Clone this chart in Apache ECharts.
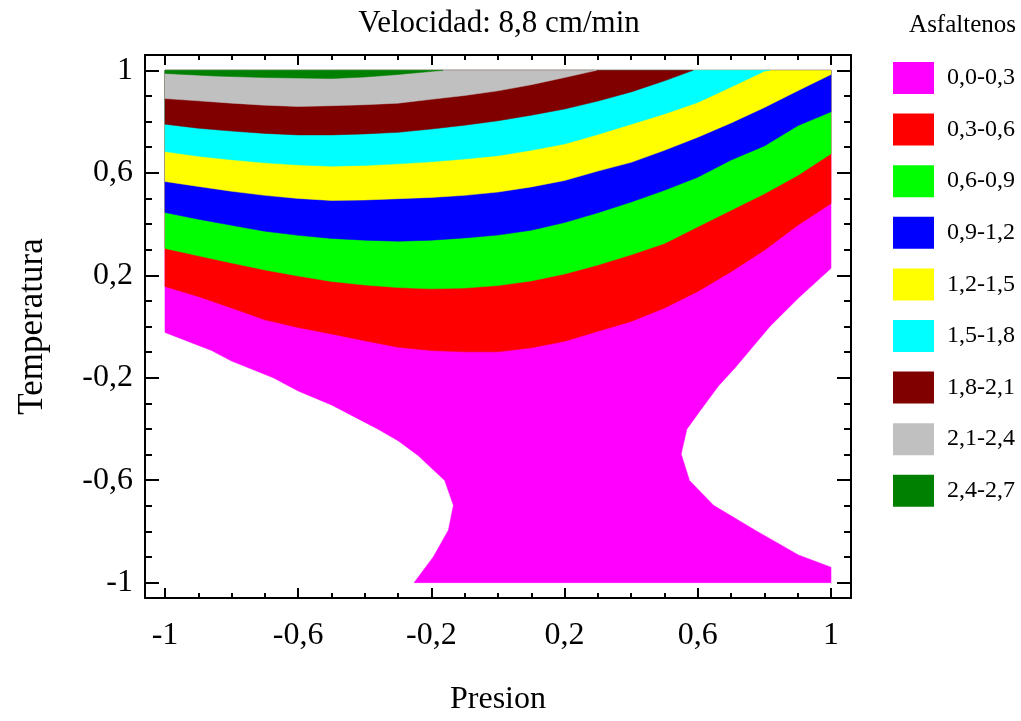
<!DOCTYPE html>
<html>
<head>
<meta charset="utf-8">
<script src="https://cdn.jsdelivr.net/npm/echarts@6/dist/echarts.min.js"></script>
<style>
html,body{margin:0;padding:0;background:#fff;}
#chart{width:1021px;height:721px;}
</style>
</head>
<body>
<div id="chart"></div>
<script>
// ---- texts ----
const titleText = 'Velocidad: 8,8 cm/min';
const xName = 'Presion';
const yName = 'Temperatura';
const legendTitle = 'Asfaltenos';

// ---- bands (contour levels) ----
const bandLabels = ['0,0-0,3','0,3-0,6','0,6-0,9','0,9-1,2','1,2-1,5','1,5-1,8','1,8-2,1','2,1-2,4','2,4-2,7'];
const bandColors = ['#FF00FF','#FF0000','#00FF00','#0000FF','#FFFF00','#00FFFF','#800000','#C0C0C0','#008000'];

// ---- ticks ----
const majorTicks = [-1, -0.6, -0.2, 0.2, 0.6, 1];
const minorTicks = [-1, -0.9, -0.8, -0.7, -0.6, -0.5, -0.4, -0.3, -0.2, -0.1, 0, 0.1, 0.2, 0.3, 0.4, 0.5, 0.6, 0.7, 0.8, 0.9, 1];

// ---- contour lines: [Presion, Temperatura] ----
// level 0.0 (two pieces)
const contour00Left = [[-1,-0.023],[-0.86,-0.094],[-0.80,-0.135],[-0.675,-0.200],[-0.60,-0.252],[-0.50,-0.306],[-0.36,-0.401],[-0.30,-0.446],[-0.24,-0.504],[-0.16,-0.601],[-0.134,-0.698],[-0.149,-0.795],[-0.194,-0.899],[-0.252,-1]];
const contour00Right = [[1,-0.94],[0.902,-0.892],[0.772,-0.795],[0.647,-0.698],[0.575,-0.601],[0.550,-0.498],[0.567,-0.401],[0.607,-0.329],[0.662,-0.232],[0.712,-0.161],[0.817,0.001],[0.902,0.111],[1,0.227]];
// level 0.3
const contour03 = [[-1,0.156],[-0.9,0.117],[-0.8,0.072],[-0.7,0.026],[-0.6,-0.004],[-0.5,-0.029],[-0.4,-0.056],[-0.3,-0.081],[-0.2,-0.094],[-0.1,-0.099],[0.0,-0.099],[0.1,-0.083],[0.2,-0.058],[0.3,-0.019],[0.4,0.020],[0.5,0.072],[0.6,0.137],[0.7,0.214],[0.8,0.298],[0.9,0.395],[1,0.480]];
// level 0.6
const contour06 = [[-1,0.305],[-0.9,0.276],[-0.8,0.248],[-0.7,0.221],[-0.6,0.197],[-0.5,0.176],[-0.4,0.162],[-0.3,0.152],[-0.2,0.147],[-0.1,0.150],[0.0,0.160],[0.1,0.178],[0.2,0.205],[0.3,0.240],[0.4,0.280],[0.5,0.324],[0.6,0.389],[0.7,0.454],[0.8,0.518],[0.9,0.590],[1,0.674]];
// level 0.9
const contour09 = [[-1,0.445],[-0.9,0.419],[-0.8,0.395],[-0.7,0.372],[-0.6,0.356],[-0.5,0.344],[-0.4,0.337],[-0.3,0.333],[-0.2,0.337],[-0.1,0.346],[0.0,0.357],[0.1,0.376],[0.2,0.406],[0.3,0.444],[0.4,0.486],[0.5,0.532],[0.6,0.583],[0.7,0.650],[0.8,0.705],[0.9,0.784],[1,0.838]];
// level 1.2
const contour12 = [[-1,0.566],[-0.9,0.547],[-0.8,0.528],[-0.7,0.512],[-0.6,0.500],[-0.5,0.492],[-0.4,0.494],[-0.3,0.499],[-0.2,0.504],[-0.1,0.512],[0.0,0.525],[0.1,0.545],[0.2,0.570],[0.3,0.607],[0.4,0.641],[0.5,0.688],[0.6,0.739],[0.7,0.795],[0.8,0.855],[0.9,0.920],[1,0.984]];
// level 1.5
const contour15 = [[-1,0.683],[-0.9,0.665],[-0.8,0.651],[-0.7,0.639],[-0.6,0.631],[-0.5,0.626],[-0.4,0.629],[-0.3,0.635],[-0.2,0.643],[-0.1,0.654],[0.0,0.667],[0.1,0.688],[0.2,0.713],[0.3,0.750],[0.4,0.790],[0.5,0.830],[0.6,0.875],[0.7,0.935],[0.8,0.997],[0.817,1]];
// level 1.8
const contour18 = [[-1,0.790],[-0.9,0.774],[-0.8,0.763],[-0.7,0.754],[-0.6,0.748],[-0.5,0.748],[-0.4,0.752],[-0.3,0.758],[-0.2,0.771],[-0.1,0.786],[0.0,0.803],[0.1,0.825],[0.2,0.849],[0.3,0.880],[0.4,0.916],[0.5,0.959],[0.586,1]];
// level 2.1
const contour21 = [[-1,0.890],[-0.9,0.881],[-0.8,0.872],[-0.7,0.864],[-0.6,0.859],[-0.5,0.862],[-0.4,0.866],[-0.3,0.872],[-0.2,0.887],[-0.1,0.902],[0.0,0.920],[0.1,0.944],[0.2,0.972],[0.296,1]];
// level 2.4
const contour24 = [[-1,0.988],[-0.85,0.978],[-0.7,0.972],[-0.5,0.968],[-0.4,0.974],[-0.3,0.984],[-0.165,1]];

// ---- domain of the surface ----
const XMIN = -1, XMAX = 1, YMIN = -1, YMAX = 1;
const AXMIN = -1.06, AXMAX = 1.06;

const FONT = "'Liberation Serif','Times New Roman',serif";

// region where value >= level (closing along the domain edges)
function regionAbove(line) {
  const pts = line.slice();
  const last = pts[pts.length - 1];
  if (last[1] < YMAX) pts.push([XMAX, YMAX]);
  pts.push([XMIN, YMAX]);
  return pts;
}
const region00 = contour00Left.concat([[XMAX, YMIN]], contour00Right, [[XMAX, YMAX], [XMIN, YMAX]]);
const regions = [region00, regionAbove(contour03), regionAbove(contour06), regionAbove(contour09),
  regionAbove(contour12), regionAbove(contour15), regionAbove(contour18), regionAbove(contour21), regionAbove(contour24)];

const fmt = v => String(v).replace('.', ',');
const tickLine = {color: '#000', width: 2};
const labelStyle = {color: '#000', fontFamily: FONT, fontSize: 32};
const nameStyle = {color: '#000', fontFamily: FONT, fontSize: 32};

function axis(pos, ticks, len, withLine, withLabel, extra) {
  return Object.assign({
    type: 'value', position: pos, min: AXMIN, max: AXMAX,
    splitLine: {show: false},
    axisLine: {show: withLine, onZero: false, lineStyle: {color: '#000', width: 2}},
    axisTick: {show: true, inside: true, length: len, lineStyle: tickLine, customValues: ticks},
    axisLabel: withLabel ? Object.assign({show: true, customValues: ticks, formatter: fmt}, labelStyle) : {show: false}
  }, extra || {});
}

const xAxes = [
  axis('bottom', majorTicks, 10, true, true, {
    axisLabel: Object.assign({show: true, customValues: majorTicks, formatter: fmt, margin: 22}, labelStyle),
    name: xName, nameLocation: 'middle', nameGap: 86, nameTextStyle: nameStyle
  }),
  axis('bottom', minorTicks, 5, false, false),
  axis('top', majorTicks, 10, true, false),
  axis('top', minorTicks, 5, false, false)
];
const yAxes = [
  axis('left', majorTicks, 14, true, true, {
    axisLabel: Object.assign({show: true, customValues: majorTicks, formatter: fmt, margin: 12}, labelStyle),
    name: yName, nameLocation: 'middle', nameGap: 95, nameTextStyle: Object.assign({}, nameStyle, {fontSize: 35})
  }),
  axis('left', minorTicks, 7, false, false),
  axis('right', majorTicks, 14, true, false),
  axis('right', minorTicks, 7, false, false)
];

const series = regions.map((poly, i) => ({
  type: 'custom',
  name: bandLabels[i],
  coordinateSystem: 'cartesian2d',
  xAxisIndex: 0, yAxisIndex: 0,
  silent: true,
  animation: false,
  itemStyle: {color: bandColors[i]},
  data: [poly[0]],
  renderItem: (params, api) => ({
    type: 'polygon',
    shape: {points: poly.map(p => api.coord(p))},
    style: {fill: bandColors[i], stroke: bandColors[i], lineWidth: 0.5}
  })
}));

const chart = echarts.init(document.getElementById('chart'), null, {renderer: 'canvas'});
chart.setOption({
  animation: false,
  backgroundColor: '#fff',
  title: [
    {text: titleText, left: 499, top: 8, padding: 0, textAlign: 'center',
     textStyle: {fontFamily: FONT, fontSize: 31, fontWeight: 'normal', color: '#000'}},
    {text: legendTitle, right: 5, top: 13, padding: 0,
     textStyle: {fontFamily: FONT, fontSize: 25, fontWeight: 'normal', color: '#000'}}
  ],
  legend: {
    orient: 'vertical', left: 893, top: 62, padding: 0,
    icon: 'rect', itemWidth: 41, itemHeight: 32, itemGap: 19.6,
    selectedMode: false,
    data: bandLabels,
    textStyle: {fontFamily: FONT, fontSize: 24, color: '#000', padding: [0, 0, 0, 8]}
  },
  grid: {left: 145, top: 55, width: 706, height: 546, containLabel: false},
  xAxis: xAxes,
  yAxis: yAxes,
  series: series
});
</script>
</body>
</html>
